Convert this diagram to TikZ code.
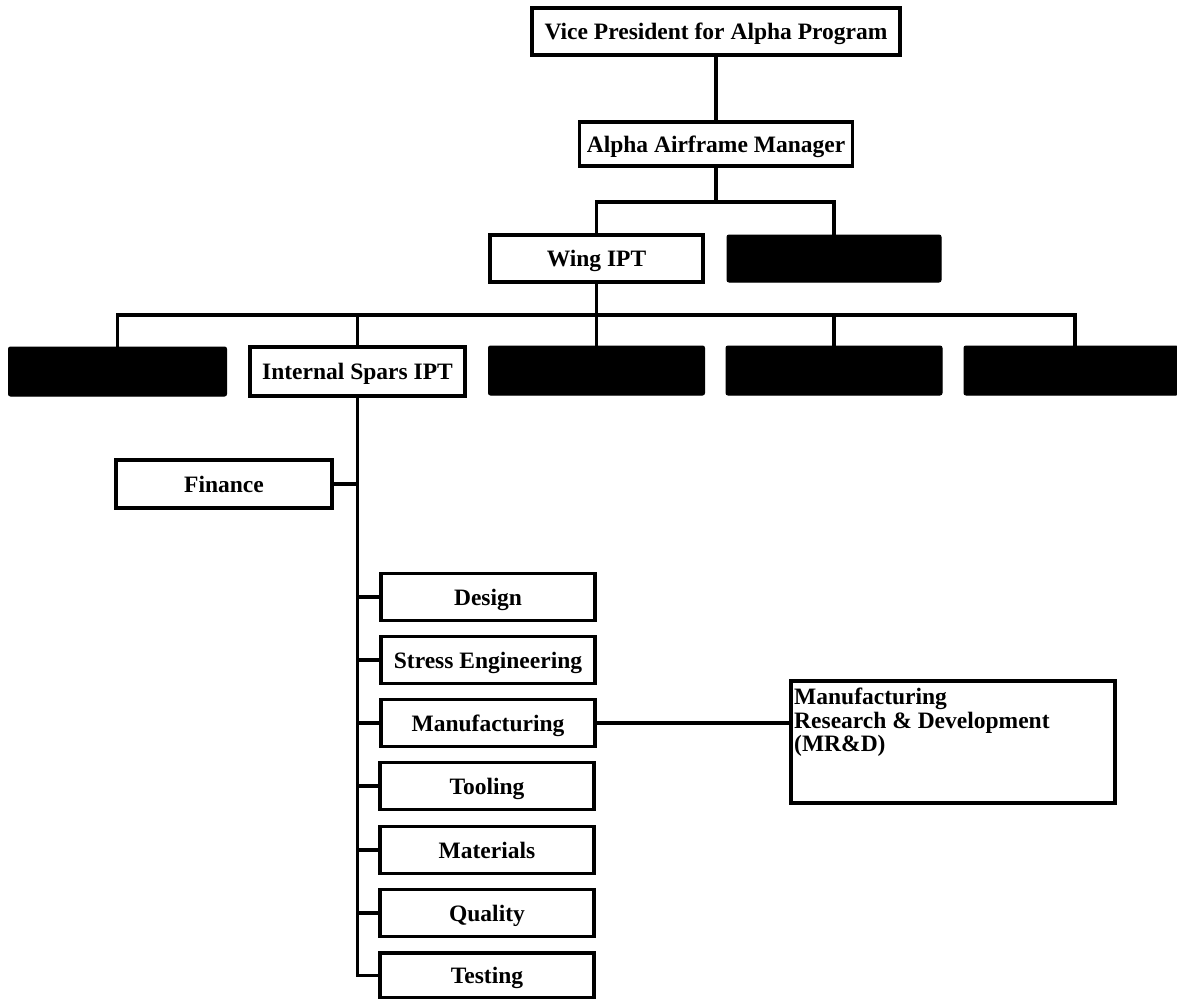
\documentclass[tikz,border=0pt]{standalone}
\usepackage{fontspec}
\newfontfamily\orgfont{Liberation Serif Bold}
\begin{document}
\begin{tikzpicture}[x=1pt,y=-1pt,
  box/.style={draw=black, line width=3.2pt, fill=white, inner sep=0pt,
    font=\orgfont\fontsize{23.5}{23.5}\selectfont, text height=16pt, text depth=0pt},
  hidden/.style={draw=black, fill=black, line width=1pt, rounded corners=2pt, inner sep=0pt},
  unit/.style={box, minimum width=214pt, minimum height=47pt},
  link/.style={line width=3.4pt, line join=miter}]
\useasboundingbox (0,0) rectangle (1177,998);

% top of the chain
\node[box, minimum width=368pt, minimum height=47pt] (vp) at (716,31.5) {Vice President for Alpha Program};
\node[box, minimum width=273pt, minimum height=44pt] (aam) at (716,144) {Alpha Airframe Manager};

% integrated product teams
\node[box, minimum width=213pt, minimum height=47pt] (wing) at (596.5,258.5) {Wing IPT};
\node[hidden, minimum width=214pt, minimum height=47pt] (t2) at (834,258.5) {};

\node[hidden, minimum width=218pt, minimum height=49pt] (s1) at (117.5,371.5) {};
\node[box, minimum width=215pt, minimum height=49pt] (isp) at (357.5,371.5) {Internal Spars IPT};
\node[hidden, minimum width=216pt, minimum height=49pt] (s3) at (596.5,370.5) {};
\node[hidden, minimum width=216pt, minimum height=49pt] (s4) at (834,370.5) {};
\node[hidden, minimum width=214pt, minimum height=49pt] (s5) at (1071,370.5) {};
\coordinate (s5in) at (1075,346);

% functions of the spar team
\node[box, minimum width=216pt, minimum height=48pt] (fin) at (224,484) {Finance};
\node[unit] (des) at (488,597) {Design};
\node[unit] (str) at (488,660) {Stress Engineering};
\node[unit] (man) at (488,723) {Manufacturing};
\node[unit] (tool) at (487,786) {Tooling};
\node[unit] (mat) at (487,850) {Materials};
\node[unit] (qual) at (487,913) {Quality};
\node[unit, minimum height=45pt] (test) at (487,975.5) {Testing};

\node[box, minimum width=324pt, minimum height=122pt] (mrd) at (953,742) {};
\node[anchor=north west, align=left, inner sep=0pt, font=\orgfont\fontsize{23.5}{23.5}\selectfont]
  (mrdtext) at (794,688) {Manufacturing\\Research \& Development\\(MR\&D)};

% buses
\coordinate (bus1) at (0,202);
\coordinate (bus2) at (0,315);

\draw[link] (vp) -- (aam);
\draw[link] (aam.south) -- (aam.south |- bus1);
\draw[link] (wing.north) |- (t2.north |- bus1) -- (t2.north);
\draw[link] (wing.south) -- (s3.north);
\draw[link] (s1.north) |- (s5in |- bus2) -- (s5in);
\draw[link] (isp.north) -- (isp.north |- bus2);
\draw[link] (s4.north) -- (s4.north |- bus2);

\draw[link] (isp.south) |- (test.west);
\draw[link] (fin.east) -- (fin.east -| isp.south);
\draw[link] (des.west) -- (des.west -| isp.south);
\draw[link] (str.west) -- (str.west -| isp.south);
\draw[link] (man.west) -- (man.west -| isp.south);
\draw[link] (tool.west) -- (tool.west -| isp.south);
\draw[link] (mat.west) -- (mat.west -| isp.south);
\draw[link] (qual.west) -- (qual.west -| isp.south);
\draw[link] (man.east) -- (mrd.west |- man.east);
\end{tikzpicture}
\end{document}
